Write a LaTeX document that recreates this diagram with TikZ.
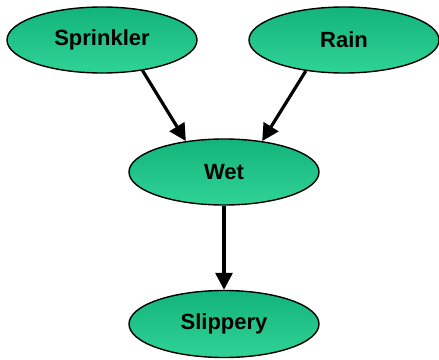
\documentclass[tikz,border=0pt]{standalone}
\usepackage{fontspec}
\setmainfont{Liberation Sans}
\usetikzlibrary{shapes.geometric,arrows.meta}
\definecolor{gtop}{HTML}{13B47A}
\definecolor{gbot}{HTML}{30D396}
\tikzset{
  bn/.style={ellipse, draw=black, line width=1.4pt, top color=gtop, bottom color=gbot,
    minimum width=190pt, minimum height=66pt, inner sep=0pt,
    font=\fontsize{22}{24}\selectfont\bfseries, text=black},
  edge/.style={line width=3.2pt, -{Triangle[length=17pt,width=17pt]}, shorten >=0pt}
}
\begin{document}
\begin{tikzpicture}[x=1pt,y=-1pt]
\useasboundingbox (0,0) rectangle (439,359);
\node[bn] (s) at (102,40) {Sprinkler};
\node[bn] (r) at (344,40) {Rain};
\node[bn] (w) at (224,172) {Wet};
\node[bn, minimum height=67pt] (p) at (224,324) {Slippery};
\draw[edge] (s.-37) -- (w.141);
\draw[edge] (r.-141) -- (w.39);
\draw[edge] (w.south) -- (p.north);
\end{tikzpicture}
\end{document}
